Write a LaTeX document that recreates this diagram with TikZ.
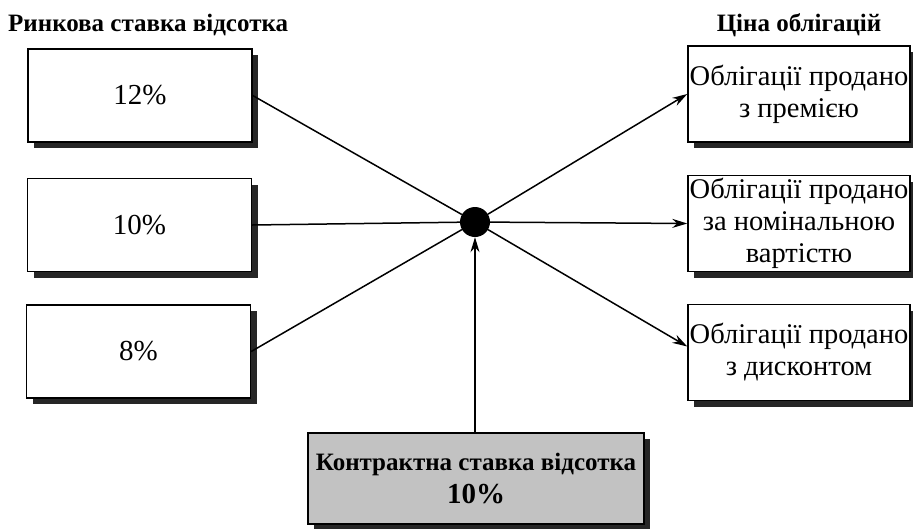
\documentclass[tikz,border=0pt]{standalone}
\usepackage{fontspec}
\setmainfont{Liberation Serif}
\usetikzlibrary{arrows.meta,shadows}
\begin{document}
\begin{tikzpicture}[x=1pt,y=-1pt,
  boxshadow/.style={general shadow={fill=black!85, shadow xshift=6pt, shadow yshift=-6pt}},
  ratebox/.style={draw, line width=1.4pt, fill=white, boxshadow, minimum width=224pt, minimum height=93pt, inner sep=0pt, font=\fontsize{29}{33}\selectfont},
  pricebox/.style={draw, line width=1.4pt, fill=white, boxshadow, minimum width=222pt, minimum height=96pt, inner sep=0pt, align=center, font=\fontsize{28.5}{32}\selectfont},
  contractbox/.style={draw, line width=1.4pt, fill=black!24, boxshadow, minimum width=336pt, minimum height=91pt, inner sep=0pt, align=center, font=\bfseries\fontsize{25}{33}\selectfont},
  titletext/.style={font=\bfseries\fontsize{25}{28}\selectfont, inner sep=0pt},
  link/.style={line width=1.5pt},
  arrowlink/.style={line width=1.5pt, -{Stealth[length=15pt,width=9pt]}}
]
\useasboundingbox (0,0) rectangle (913,528);

\node[titletext, anchor=west] (ltitle) at (8,25) {Ринкова ставка відсотка};
\node[titletext] (rtitle) at (799,25) {Ціна облігацій};

\node[ratebox] (l1) at (140,95.5) {12\%};
\node[ratebox] (l2) at (139.5,225) {10\%};
\node[ratebox] (l3) at (138.5,351.5) {8\%};

\node[pricebox] (r1) at (799,94) {Облігації продано\\з премією};
\node[pricebox] (r2) at (799,223.5) {Облігації продано\\за номінальною\\вартістю};
\node[pricebox] (r3) at (799,352.5) {Облігації продано\\з дисконтом};

\node[contractbox] (c) at (476,478.5) {Контрактна ставка відсотка\\{\fontsize{29}{33}\selectfont 10\%}};

\node[circle, fill=black, minimum size=30pt, inner sep=0pt] (dot) at (475,222) {};

\draw[link] (l1.east) -- (dot);
\draw[link] (l2.east) -- (dot);
\draw[link] (l3.east) -- (dot);

\draw[arrowlink] (dot) -- (r1.west);
\draw[arrowlink] (dot) -- (r2.west);
\draw[arrowlink] (dot) -- ([yshift=6pt]r3.west);

\draw[arrowlink] (c.north -| dot) -- (dot.south);
\end{tikzpicture}
\end{document}
